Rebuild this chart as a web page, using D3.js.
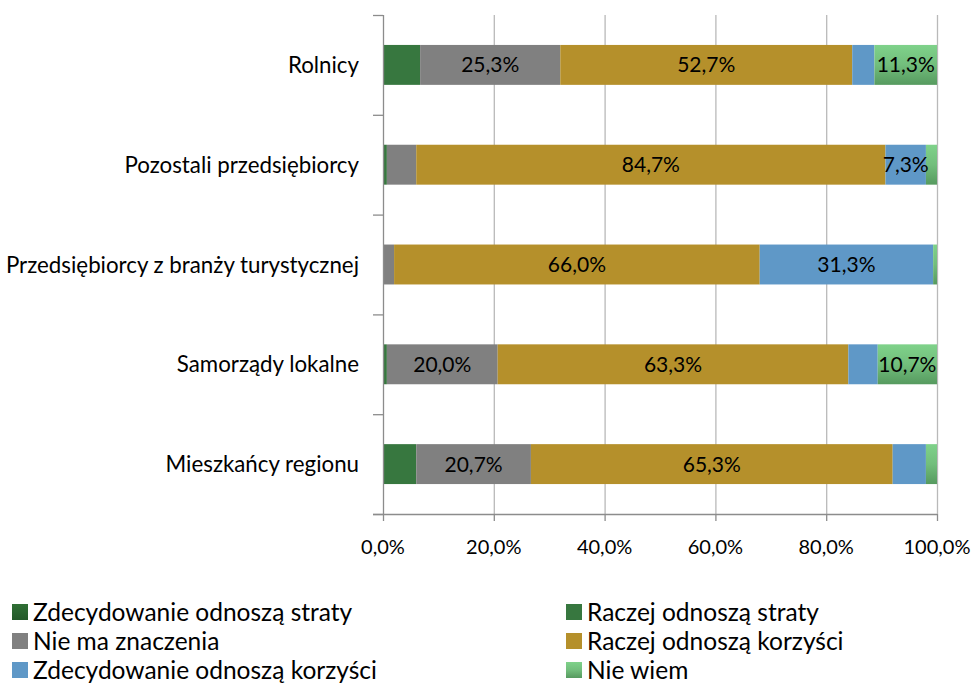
<!DOCTYPE html>
<html><head><meta charset="utf-8">
<script src="https://cdn.jsdelivr.net/npm/d3@7"></script>
<style>body{margin:0;background:#fff}svg{display:block}text{font-family:Lato,"Open Sans",sans-serif}</style>
</head><body><svg id="c" width="974" height="684"></svg>
<script>
const categories = ["Rolnicy","Pozostali przedsiębiorcy","Przedsiębiorcy z branży turystycznej","Samorządy lokalne","Mieszkańcy regionu"];
const seriesNames = ["Zdecydowanie odnoszą straty","Raczej odnoszą straty","Nie ma znaczenia","Raczej odnoszą korzyści","Zdecydowanie odnoszą korzyści","Nie wiem"];
const zdecydowanieStraty = [0,0,0,0,0];
const raczejStraty = [6.7,0.7,0,0.7,6.0];
const nieMaZnaczenia = [25.3,5.3,2.0,20.0,20.7];
const raczejKorzysci = [52.7,84.7,66.0,63.3,65.3];
const zdecydowanieKorzysci = [4.0,7.3,31.3,5.3,6.0];
const nieWiem = [11.3,2.0,0.7,10.7,2.0];
const xTicks = [0,20,40,60,80,100];
const colors = ["#2a6630","#37773f","#808080","#b5902b","#5f98c7","url(#gNW)"];

const seriesVals = [zdecydowanieStraty,raczejStraty,nieMaZnaczenia,raczejKorzysci,zdecydowanieKorzysci,nieWiem];
const rows = categories.map((c,i)=>{const o={cat:c}; seriesNames.forEach((s,j)=>o[s]=seriesVals[j][i]); return o;});
const stack = d3.stack().keys(seriesNames)(rows);

const svg = d3.select("#c");
const defs = svg.append("defs");
const g1 = defs.append("linearGradient").attr("id","gNW").attr("x1",0).attr("y1",0).attr("x2",0).attr("y2",1);
g1.append("stop").attr("offset","0").attr("stop-color","#7fd28a");
g1.append("stop").attr("offset","0.5").attr("stop-color","#72be7c");
g1.append("stop").attr("offset","1").attr("stop-color","#569a5f");
const g2 = defs.append("linearGradient").attr("id","gZS").attr("x1",0).attr("y1",0).attr("x2",0).attr("y2",1);
g2.append("stop").attr("offset","0").attr("stop-color","#2f6f35");
g2.append("stop").attr("offset","1").attr("stop-color","#24592a");

const L=383,R=937,T=15,B=514;
const x = d3.scaleLinear().domain([0,100]).range([L,R]);
const y = d3.scaleBand().domain(categories).range([T,B]).paddingInner(0.6).paddingOuter(0.3);
const yOuter = d3.scaleBand().domain(categories).range([T,B]);

// gridlines
svg.append("g").selectAll("line").data(xTicks.slice(1)).join("line")
 .attr("x1",d=>x(d)+0.5).attr("x2",d=>x(d)+0.5).attr("y1",T).attr("y2",B)
 .attr("stroke","#b9b9b9").attr("stroke-width",1.3);

// bars
svg.append("g").selectAll("g").data(stack).join("g")
 .attr("fill",(d,i)=>colors[i])
 .selectAll("rect").data(d=>d).join("rect")
 .attr("x",d=>x(d[0])).attr("width",d=>Math.max(0,x(d[1])-x(d[0])))
 .attr("y",d=>y(d.data.cat)).attr("height",y.bandwidth());

// value labels
const labs=[];
stack.forEach((s,i)=>s.forEach(d=>{const v=d[1]-d[0]; if(v>7) labs.push({x:(x(d[0])+x(d[1]))/2,y:y(d.data.cat)+y.bandwidth()/2,v});}));
svg.append("g").selectAll("text").data(labs).join("text")
 .attr("x",d=>d.x).attr("y",d=>d.y).attr("dy","0.36em").attr("text-anchor","middle")
 .attr("font-size",21).attr("fill","#000")
 .text(d=>d3.format(".1f")(d.v).replace(".",",")+"%");

// y axis
const ya = svg.append("g");
ya.append("line").attr("x1",L+0.5).attr("x2",L+0.5).attr("y1",T).attr("y2",B).attr("stroke","#8c8c8c").attr("stroke-width",1.3);
const bounds = categories.map(c=>yOuter(c)).concat([B]);
ya.selectAll("line.t").data(bounds).join("line").attr("class","t")
 .attr("x1",L-10).attr("x2",L).attr("y1",d=>d+0.5).attr("y2",d=>d+0.5).attr("stroke","#8c8c8c").attr("stroke-width",1.3);
ya.selectAll("text").data(categories).join("text")
 .attr("x",L-24).attr("y",d=>yOuter(d)+yOuter.bandwidth()/2).attr("dy","0.36em")
 .attr("text-anchor","end").attr("font-size",22.3).attr("fill","#000").text(d=>d);

// x axis
const xa = svg.append("g");
xa.append("line").attr("x1",L-10).attr("x2",R).attr("y1",B+0.5).attr("y2",B+0.5).attr("stroke","#8c8c8c").attr("stroke-width",1.3);
xa.selectAll("line.t").data(xTicks).join("line").attr("class","t")
 .attr("x1",d=>x(d)+0.5).attr("x2",d=>x(d)+0.5).attr("y1",B).attr("y2",B+7).attr("stroke","#8c8c8c").attr("stroke-width",1.3);
xa.selectAll("text").data(xTicks).join("text")
 .attr("x",d=>x(d)).attr("y",B+33).attr("dy","0.36em").attr("text-anchor","middle")
 .attr("font-size",20).attr("fill","#000").text(d=>d3.format(".1f")(d).replace(".",",")+"%");

// legend
const legOrder = [0,1,2,3,4,5];
const legColors = ["url(#gZS)","#37773f","#808080","#b5902b","#5f98c7","url(#gNW)"];
const lg = svg.append("g").selectAll("g").data(legOrder).join("g")
 .attr("transform",(d,i)=>`translate(${i%2===0?12:566},${612+Math.floor(i/2)*29})`);
lg.append("rect").attr("x",0).attr("y",-8).attr("width",16).attr("height",16).attr("fill",d=>legColors[d]);
lg.append("text").attr("x",21).attr("y",0).attr("dy","0.36em").attr("font-size",24.5).attr("fill","#000").text(d=>seriesNames[d]);
</script></body></html>
